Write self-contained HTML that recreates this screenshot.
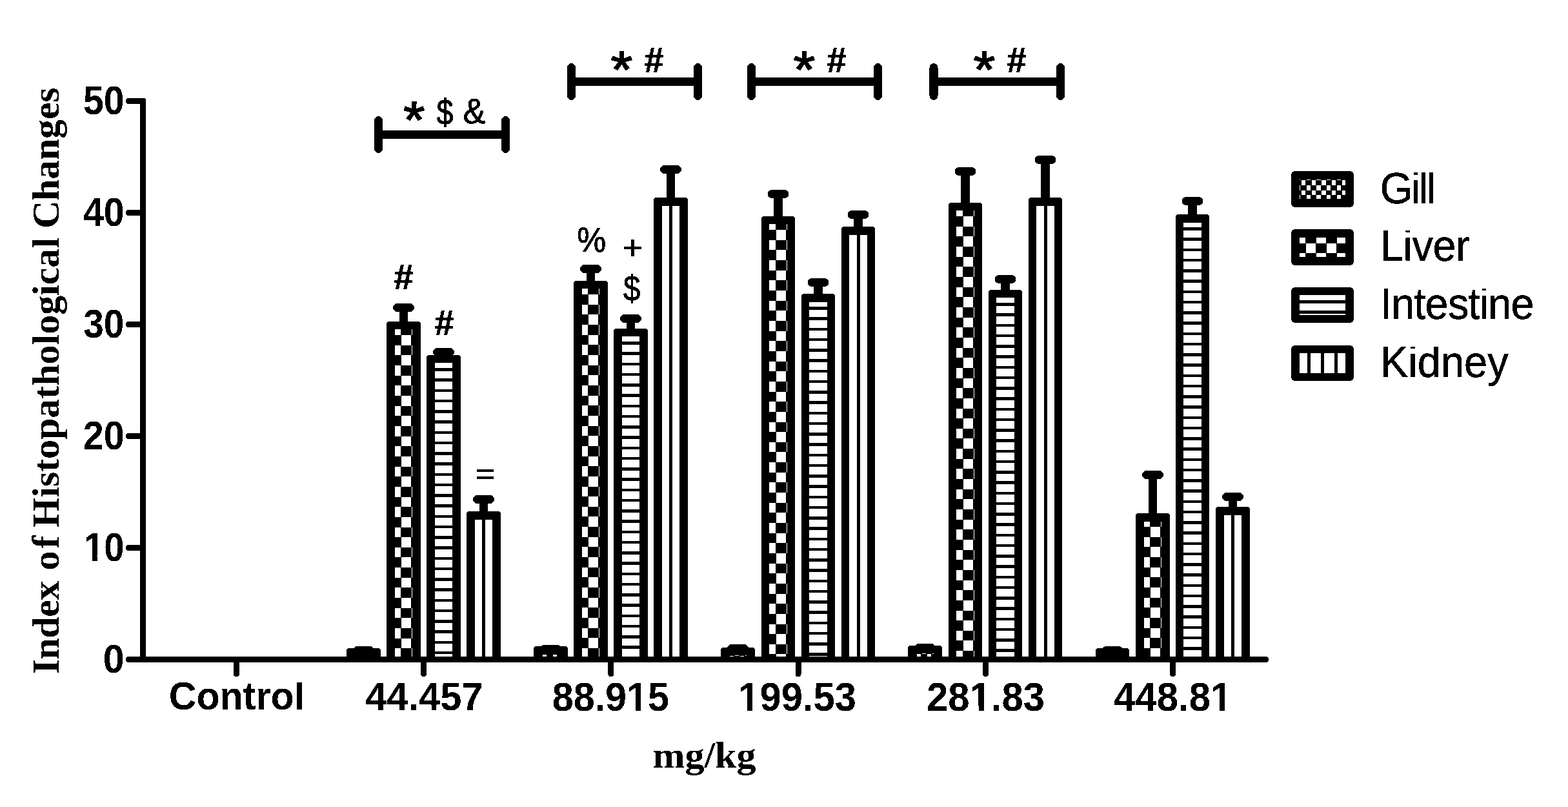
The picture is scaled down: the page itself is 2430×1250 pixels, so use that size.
<!DOCTYPE html>
<html lang="en"><head><meta charset="utf-8"><title>Index of Histopathological Changes</title>
<style>
html,body{margin:0;padding:0;background:#fff;}
body{width:2430px;height:1250px;overflow:hidden;}
svg{display:block;}
.tick{font-family:"Liberation Sans",Arial,Helvetica,sans-serif;font-weight:700;font-size:60px;fill:#000;}
.title{font-family:"Liberation Serif","Times New Roman",Times,serif;font-weight:700;font-size:60px;fill:#000;}
.leg{font-family:"Liberation Sans",Arial,Helvetica,sans-serif;font-weight:400;font-size:65px;fill:#000;stroke:#000;stroke-width:0.5px;}
.ann{font-family:"Liberation Sans",Arial,Helvetica,sans-serif;font-weight:400;font-size:54px;fill:#000;stroke:#000;stroke-width:0.9px;}
.hash{font-family:"Liberation Sans",Arial,Helvetica,sans-serif;font-weight:700;font-size:54px;fill:#000;stroke:#000;stroke-width:1px;}
.star{font-family:"Liberation Sans",Arial,Helvetica,sans-serif;font-weight:400;font-size:86px;fill:#000;stroke:#000;stroke-width:2px;}
.eb{stroke:#000;stroke-width:13;stroke-linecap:round;stroke-linejoin:round;fill:none;}
</style></head><body>
<svg width="2430" height="1250" viewBox="0 0 2430 1250">
<defs>
<filter id="bw" filterUnits="userSpaceOnUse" x="0" y="0" width="2430" height="1250" color-interpolation-filters="sRGB">
<feComponentTransfer><feFuncR type="discrete" tableValues="0 1"/><feFuncG type="discrete" tableValues="0 1"/><feFuncB type="discrete" tableValues="0 1"/></feComponentTransfer>
</filter>
</defs>
<g filter="url(#bw)">
<rect x="0" y="0" width="2430" height="1250" fill="#fff"/>
<g id="bars" fill="#000">
<path class="eb" d="M553.5,1007.5 H573.5 M563.5,1007.5 V1010.5"/>
<path d="M537,1023.5 H590 V1008 a4,4 0 0 0 -4,-4 H541 a4,4 0 0 0 -4,4 Z"/>
<path class="eb" d="M615.5,476.5 H635.5 M625.5,476.5 V504.5"/>
<path d="M599,1023.5 H652 V502 a4,4 0 0 0 -4,-4 H603 a4,4 0 0 0 -4,4 Z"/><rect fill="#fff" x="612" y="510" width="27" height="507"/><path d="M621,510H638V519H621ZM612,519H622V535H612ZM637,519H639V535H637ZM621,535H638V550H621ZM612,550H622V566H612ZM637,550H639V566H637ZM621,566H638V582H621ZM612,582H622V597H612ZM637,582H639V597H637ZM621,597H638V613H621ZM612,613H622V629H612ZM637,613H639V629H637ZM621,629H638V644H621ZM612,644H622V660H612ZM637,644H639V660H637ZM621,660H638V676H621ZM612,676H622V691H612ZM637,676H639V691H637ZM621,691H638V707H621ZM612,707H622V723H612ZM637,707H639V723H637ZM621,723H638V738H621ZM612,738H622V754H612ZM637,738H639V754H637ZM621,754H638V770H621ZM612,770H622V785H612ZM637,770H639V785H637ZM621,785H638V801H621ZM612,801H622V817H612ZM637,801H639V817H637ZM621,817H638V832H621ZM612,832H622V848H612ZM637,832H639V848H637ZM621,848H638V863H621ZM612,863H622V879H612ZM637,863H639V879H637ZM621,879H638V895H621ZM612,895H622V910H612ZM637,895H639V910H637ZM621,910H638V926H621ZM612,926H622V942H612ZM637,926H639V942H637ZM621,942H638V957H621ZM612,957H622V973H612ZM637,957H639V973H637ZM621,973H638V989H621ZM612,989H622V1004H612ZM637,989H639V1004H637ZM621,1004H638V1017H621Z"/>
<path class="eb" d="M677.5,545.5 H697.5 M687.5,545.5 V556.5"/>
<path d="M661,1023.5 H714 V554 a4,4 0 0 0 -4,-4 H665 a4,4 0 0 0 -4,4 Z"/><rect fill="#fff" x="674" y="562" width="27" height="455"/><path d="M674,570H701V575H674ZM674,586H701V591H674ZM674,603H701V607H674ZM674,619H701V623H674ZM674,635H701V640H674ZM674,651H701V656H674ZM674,668H701V672H674ZM674,684H701V688H674ZM674,700H701V705H674ZM674,716H701V721H674ZM674,733H701V737H674ZM674,749H701V753H674ZM674,765H701V770H674ZM674,781H701V786H674ZM674,798H701V802H674ZM674,814H701V818H674ZM674,830H701V835H674ZM674,846H701V851H674ZM674,863H701V867H674ZM674,879H701V883H674ZM674,895H701V900H674ZM674,911H701V916H674ZM674,928H701V932H674ZM674,944H701V948H674ZM674,960H701V965H674ZM674,976H701V981H674ZM674,993H701V997H674ZM674,1009H701V1013H674Z"/>
<path class="eb" d="M739.5,773.5 H759.5 M749.5,773.5 V798.5"/>
<path d="M723,1023.5 H776 V796 a4,4 0 0 0 -4,-4 H727 a4,4 0 0 0 -4,4 Z"/><rect fill="#fff" x="736" y="805" width="27" height="212"/><path d="M747,805H752V1017H747Z"/>
<path class="eb" d="M843.5,1005.3 H863.5 M853.5,1005.3 V1007.5"/>
<path d="M827,1023.5 H880 V1005 a4,4 0 0 0 -4,-4 H831 a4,4 0 0 0 -4,4 Z"/><rect fill="#fff" x="840" y="1014" width="27" height="3"/><path d="M840,1014H841V1017H840ZM847,1014H857V1017H847ZM863,1014H867V1017H863Z"/>
<path class="eb" d="M905.5,416.5 H925.5 M915.5,416.5 V441.5"/>
<path d="M889,1023.5 H942 V439 a4,4 0 0 0 -4,-4 H893 a4,4 0 0 0 -4,4 Z"/><rect fill="#fff" x="902" y="447" width="27" height="570"/><path d="M911,447H928V456H911ZM902,456H912V472H902ZM927,456H929V472H927ZM911,472H928V487H911ZM902,487H912V503H902ZM927,487H929V503H927ZM911,503H928V519H911ZM902,519H912V534H902ZM927,519H929V534H927ZM911,534H928V550H911ZM902,550H912V566H902ZM927,550H929V566H927ZM911,566H928V581H911ZM902,581H912V597H902ZM927,581H929V597H927ZM911,597H928V613H911ZM902,613H912V628H902ZM927,613H929V628H927ZM911,628H928V644H911ZM902,644H912V660H902ZM927,644H929V660H927ZM911,660H928V675H911ZM902,675H912V691H902ZM927,675H929V691H927ZM911,691H928V707H911ZM902,707H912V722H902ZM927,707H929V722H927ZM911,722H928V738H911ZM902,738H912V754H902ZM927,738H929V754H927ZM911,754H928V769H911ZM902,769H912V785H902ZM927,769H929V785H927ZM911,785H928V800H911ZM902,800H912V816H902ZM927,800H929V816H927ZM911,816H928V832H911ZM902,832H912V847H902ZM927,832H929V847H927ZM911,847H928V863H911ZM902,863H912V879H902ZM927,863H929V879H927ZM911,879H928V894H911ZM902,894H912V910H902ZM927,894H929V910H927ZM911,910H928V926H911ZM902,926H912V941H902ZM927,926H929V941H927ZM911,941H928V957H911ZM902,957H912V973H902ZM927,957H929V973H927ZM911,973H928V988H911ZM902,988H912V1004H902ZM927,988H929V1004H927ZM911,1004H928V1017H911Z"/>
<path class="eb" d="M967.5,493.5 H987.5 M977.5,493.5 V515.5"/>
<path d="M951,1023.5 H1004 V513 a4,4 0 0 0 -4,-4 H955 a4,4 0 0 0 -4,4 Z"/><rect fill="#fff" x="964" y="521" width="27" height="496"/><path d="M964,529H991V534H964ZM964,545H991V550H964ZM964,562H991V566H964ZM964,578H991V582H964ZM964,594H991V599H964ZM964,610H991V615H964ZM964,627H991V631H964ZM964,643H991V647H964ZM964,659H991V664H964ZM964,675H991V680H964ZM964,692H991V696H964ZM964,708H991V712H964ZM964,724H991V729H964ZM964,740H991V745H964ZM964,757H991V761H964ZM964,773H991V777H964ZM964,789H991V794H964ZM964,805H991V810H964ZM964,822H991V826H964ZM964,838H991V842H964ZM964,854H991V859H964ZM964,870H991V875H964ZM964,887H991V891H964ZM964,903H991V907H964ZM964,919H991V924H964ZM964,935H991V940H964ZM964,952H991V956H964ZM964,968H991V972H964ZM964,984H991V989H964ZM964,1000H991V1005H964Z"/>
<path class="eb" d="M1029.5,262.5 H1049.5 M1039.5,262.5 V312.5"/>
<path d="M1013,1023.5 H1066 V310 a4,4 0 0 0 -4,-4 H1017 a4,4 0 0 0 -4,4 Z"/><rect fill="#fff" x="1026" y="319" width="27" height="698"/><path d="M1037,319H1042V1017H1037Z"/>
<path class="eb" d="M1133.5,1004.5 H1153.5 M1143.5,1004.5 V1009.5"/>
<path d="M1117,1023.5 H1170 V1007 a4,4 0 0 0 -4,-4 H1121 a4,4 0 0 0 -4,4 Z"/><rect fill="#fff" x="1130" y="1015" width="27" height="2"/><path d="M1130,1015H1139V1016H1130ZM1145,1015H1155V1016H1145ZM1130,1016H1131V1017H1130ZM1137,1016H1147V1017H1137ZM1153,1016H1157V1017H1153Z"/>
<path class="eb" d="M1196,300.5 H1216 M1206,300.5 V341.5"/>
<path d="M1180,1023.5 H1232 V339 a4,4 0 0 0 -4,-4 H1184 a4,4 0 0 0 -4,4 Z"/><rect fill="#fff" x="1192" y="347" width="28" height="670"/><path d="M1202,347H1219V356H1202ZM1192,356H1203V372H1192ZM1218,356H1220V372H1218ZM1202,372H1219V387H1202ZM1192,387H1203V403H1192ZM1218,387H1220V403H1218ZM1202,403H1219V419H1202ZM1192,419H1203V434H1192ZM1218,419H1220V434H1218ZM1202,434H1219V450H1202ZM1192,450H1203V466H1192ZM1218,450H1220V466H1218ZM1202,466H1219V481H1202ZM1192,481H1203V497H1192ZM1218,481H1220V497H1218ZM1202,497H1219V513H1202ZM1192,513H1203V528H1192ZM1218,513H1220V528H1218ZM1202,528H1219V544H1202ZM1192,544H1203V560H1192ZM1218,544H1220V560H1218ZM1202,560H1219V575H1202ZM1192,575H1203V591H1192ZM1218,575H1220V591H1218ZM1202,591H1219V607H1202ZM1192,607H1203V622H1192ZM1218,607H1220V622H1218ZM1202,622H1219V638H1202ZM1192,638H1203V654H1192ZM1218,638H1220V654H1218ZM1202,654H1219V669H1202ZM1192,669H1203V685H1192ZM1218,669H1220V685H1218ZM1202,685H1219V700H1202ZM1192,700H1203V716H1192ZM1218,700H1220V716H1218ZM1202,716H1219V732H1202ZM1192,732H1203V747H1192ZM1218,732H1220V747H1218ZM1202,747H1219V763H1202ZM1192,763H1203V779H1192ZM1218,763H1220V779H1218ZM1202,779H1219V794H1202ZM1192,794H1203V810H1192ZM1218,794H1220V810H1218ZM1202,810H1219V826H1202ZM1192,826H1203V841H1192ZM1218,826H1220V841H1218ZM1202,841H1219V857H1202ZM1192,857H1203V873H1192ZM1218,857H1220V873H1218ZM1202,873H1219V888H1202ZM1192,888H1203V904H1192ZM1218,888H1220V904H1218ZM1202,904H1219V920H1202ZM1192,920H1203V935H1192ZM1218,920H1220V935H1218ZM1202,935H1219V951H1202ZM1192,951H1203V967H1192ZM1218,951H1220V967H1218ZM1202,967H1219V982H1202ZM1192,982H1203V998H1192ZM1218,982H1220V998H1218ZM1202,998H1219V1013H1202ZM1192,1013H1203V1017H1192ZM1218,1013H1220V1017H1218Z"/>
<path class="eb" d="M1258,437.5 H1278 M1268,437.5 V461.5"/>
<path d="M1242,1023.5 H1294 V459 a4,4 0 0 0 -4,-4 H1246 a4,4 0 0 0 -4,4 Z"/><rect fill="#fff" x="1254" y="468" width="28" height="549"/><path d="M1254,475H1282V480H1254ZM1254,491H1282V496H1254ZM1254,508H1282V512H1254ZM1254,524H1282V528H1254ZM1254,540H1282V545H1254ZM1254,556H1282V561H1254ZM1254,573H1282V577H1254ZM1254,589H1282V593H1254ZM1254,605H1282V610H1254ZM1254,621H1282V626H1254ZM1254,638H1282V642H1254ZM1254,654H1282V658H1254ZM1254,670H1282V675H1254ZM1254,686H1282V691H1254ZM1254,703H1282V707H1254ZM1254,719H1282V723H1254ZM1254,735H1282V740H1254ZM1254,751H1282V756H1254ZM1254,768H1282V772H1254ZM1254,784H1282V788H1254ZM1254,800H1282V805H1254ZM1254,816H1282V821H1254ZM1254,833H1282V837H1254ZM1254,849H1282V853H1254ZM1254,865H1282V870H1254ZM1254,881H1282V886H1254ZM1254,898H1282V902H1254ZM1254,914H1282V918H1254ZM1254,930H1282V935H1254ZM1254,946H1282V951H1254ZM1254,963H1282V967H1254ZM1254,979H1282V983H1254ZM1254,995H1282V1000H1254ZM1254,1011H1282V1016H1254Z"/>
<path class="eb" d="M1320,332.5 H1340 M1330,332.5 V357.5"/>
<path d="M1304,1023.5 H1356 V355 a4,4 0 0 0 -4,-4 H1308 a4,4 0 0 0 -4,4 Z"/><rect fill="#fff" x="1316" y="364" width="28" height="653"/><path d="M1328,364H1333V1017H1328Z"/>
<path class="eb" d="M1423.5,1003.5 H1443.5 M1433.5,1003.5 V1006.5"/>
<path d="M1407,1023.5 H1460 V1004 a4,4 0 0 0 -4,-4 H1411 a4,4 0 0 0 -4,4 Z"/><rect fill="#fff" x="1420" y="1012" width="27" height="5"/><path d="M1420,1012H1429V1013H1420ZM1435,1012H1445V1013H1435ZM1420,1013H1421V1017H1420ZM1427,1013H1437V1017H1427ZM1443,1013H1447V1017H1443Z"/>
<path class="eb" d="M1486,265.5 H1506 M1496,265.5 V320.5"/>
<path d="M1470,1023.5 H1522 V318 a4,4 0 0 0 -4,-4 H1474 a4,4 0 0 0 -4,4 Z"/><rect fill="#fff" x="1482" y="326" width="28" height="691"/><path d="M1492,326H1509V335H1492ZM1482,335H1493V351H1482ZM1508,335H1510V351H1508ZM1492,351H1509V366H1492ZM1482,366H1493V382H1482ZM1508,366H1510V382H1508ZM1492,382H1509V398H1492ZM1482,398H1493V413H1482ZM1508,398H1510V413H1508ZM1492,413H1509V429H1492ZM1482,429H1493V445H1482ZM1508,429H1510V445H1508ZM1492,445H1509V460H1492ZM1482,460H1493V476H1482ZM1508,460H1510V476H1508ZM1492,476H1509V492H1492ZM1482,492H1493V507H1482ZM1508,492H1510V507H1508ZM1492,507H1509V523H1492ZM1482,523H1493V539H1482ZM1508,523H1510V539H1508ZM1492,539H1509V554H1492ZM1482,554H1493V570H1482ZM1508,554H1510V570H1508ZM1492,570H1509V586H1492ZM1482,586H1493V601H1482ZM1508,586H1510V601H1508ZM1492,601H1509V617H1492ZM1482,617H1493V633H1482ZM1508,617H1510V633H1508ZM1492,633H1509V648H1492ZM1482,648H1493V664H1482ZM1508,648H1510V664H1508ZM1492,664H1509V679H1492ZM1482,679H1493V695H1482ZM1508,679H1510V695H1508ZM1492,695H1509V711H1492ZM1482,711H1493V726H1482ZM1508,711H1510V726H1508ZM1492,726H1509V742H1492ZM1482,742H1493V758H1482ZM1508,742H1510V758H1508ZM1492,758H1509V773H1492ZM1482,773H1493V789H1482ZM1508,773H1510V789H1508ZM1492,789H1509V805H1492ZM1482,805H1493V820H1482ZM1508,805H1510V820H1508ZM1492,820H1509V836H1492ZM1482,836H1493V852H1482ZM1508,836H1510V852H1508ZM1492,852H1509V867H1492ZM1482,867H1493V883H1482ZM1508,867H1510V883H1508ZM1492,883H1509V899H1492ZM1482,899H1493V914H1482ZM1508,899H1510V914H1508ZM1492,914H1509V930H1492ZM1482,930H1493V946H1482ZM1508,930H1510V946H1508ZM1492,946H1509V961H1492ZM1482,961H1493V977H1482ZM1508,961H1510V977H1508ZM1492,977H1509V992H1492ZM1482,992H1493V1008H1482ZM1508,992H1510V1008H1508ZM1492,1008H1509V1017H1492Z"/>
<path class="eb" d="M1548,432.5 H1568 M1558,432.5 V455.5"/>
<path d="M1532,1023.5 H1584 V453 a4,4 0 0 0 -4,-4 H1536 a4,4 0 0 0 -4,4 Z"/><rect fill="#fff" x="1544" y="461" width="28" height="556"/><path d="M1544,469H1572V474H1544ZM1544,485H1572V490H1544ZM1544,502H1572V506H1544ZM1544,518H1572V522H1544ZM1544,534H1572V539H1544ZM1544,550H1572V555H1544ZM1544,567H1572V571H1544ZM1544,583H1572V587H1544ZM1544,599H1572V604H1544ZM1544,615H1572V620H1544ZM1544,632H1572V636H1544ZM1544,648H1572V652H1544ZM1544,664H1572V669H1544ZM1544,680H1572V685H1544ZM1544,697H1572V701H1544ZM1544,713H1572V717H1544ZM1544,729H1572V734H1544ZM1544,745H1572V750H1544ZM1544,762H1572V766H1544ZM1544,778H1572V782H1544ZM1544,794H1572V799H1544ZM1544,810H1572V815H1544ZM1544,827H1572V831H1544ZM1544,843H1572V847H1544ZM1544,859H1572V864H1544ZM1544,875H1572V880H1544ZM1544,892H1572V896H1544ZM1544,908H1572V912H1544ZM1544,924H1572V929H1544ZM1544,940H1572V945H1544ZM1544,957H1572V961H1544ZM1544,973H1572V977H1544ZM1544,989H1572V994H1544ZM1544,1005H1572V1010H1544Z"/>
<path class="eb" d="M1610,247.5 H1630 M1620,247.5 V312.5"/>
<path d="M1594,1023.5 H1646 V310 a4,4 0 0 0 -4,-4 H1598 a4,4 0 0 0 -4,4 Z"/><rect fill="#fff" x="1606" y="319" width="28" height="698"/><path d="M1618,319H1623V1017H1618Z"/>
<path class="eb" d="M1714,1007.5 H1734 M1724,1007.5 V1010.5"/>
<path d="M1698,1023.5 H1750 V1008 a4,4 0 0 0 -4,-4 H1702 a4,4 0 0 0 -4,4 Z"/>
<path class="eb" d="M1776.5,735.5 H1796.5 M1786.5,735.5 V801.5"/>
<path d="M1760,1023.5 H1813 V799 a4,4 0 0 0 -4,-4 H1764 a4,4 0 0 0 -4,4 Z"/><rect fill="#fff" x="1773" y="808" width="27" height="209"/><path d="M1782,808H1799V816H1782ZM1773,816H1783V832H1773ZM1798,816H1800V832H1798ZM1782,832H1799V847H1782ZM1773,847H1783V863H1773ZM1798,847H1800V863H1798ZM1782,863H1799V879H1782ZM1773,879H1783V894H1773ZM1798,879H1800V894H1798ZM1782,894H1799V910H1782ZM1773,910H1783V926H1773ZM1798,910H1800V926H1798ZM1782,926H1799V941H1782ZM1773,941H1783V957H1773ZM1798,941H1800V957H1798ZM1782,957H1799V973H1782ZM1773,973H1783V988H1773ZM1798,973H1800V988H1798ZM1782,988H1799V1004H1782ZM1773,1004H1783V1017H1773ZM1798,1004H1800V1017H1798Z"/>
<path class="eb" d="M1838,311.5 H1858 M1848,311.5 V338.5"/>
<path d="M1822,1023.5 H1874 V336 a4,4 0 0 0 -4,-4 H1826 a4,4 0 0 0 -4,4 Z"/><rect fill="#fff" x="1834" y="345" width="28" height="672"/><path d="M1834,352H1862V357H1834ZM1834,368H1862V373H1834ZM1834,385H1862V389H1834ZM1834,401H1862V405H1834ZM1834,417H1862V422H1834ZM1834,433H1862V438H1834ZM1834,450H1862V454H1834ZM1834,466H1862V470H1834ZM1834,482H1862V487H1834ZM1834,498H1862V503H1834ZM1834,515H1862V519H1834ZM1834,531H1862V535H1834ZM1834,547H1862V552H1834ZM1834,563H1862V568H1834ZM1834,580H1862V584H1834ZM1834,596H1862V600H1834ZM1834,612H1862V617H1834ZM1834,628H1862V633H1834ZM1834,645H1862V649H1834ZM1834,661H1862V665H1834ZM1834,677H1862V682H1834ZM1834,693H1862V698H1834ZM1834,710H1862V714H1834ZM1834,726H1862V730H1834ZM1834,742H1862V747H1834ZM1834,758H1862V763H1834ZM1834,775H1862V779H1834ZM1834,791H1862V795H1834ZM1834,807H1862V812H1834ZM1834,823H1862V828H1834ZM1834,840H1862V844H1834ZM1834,856H1862V860H1834ZM1834,872H1862V877H1834ZM1834,888H1862V893H1834ZM1834,905H1862V909H1834ZM1834,921H1862V925H1834ZM1834,937H1862V942H1834ZM1834,953H1862V958H1834ZM1834,970H1862V974H1834ZM1834,986H1862V990H1834ZM1834,1002H1862V1007H1834Z"/>
<path class="eb" d="M1900.5,769.5 H1920.5 M1910.5,769.5 V791.5"/>
<path d="M1884,1023.5 H1937 V789 a4,4 0 0 0 -4,-4 H1888 a4,4 0 0 0 -4,4 Z"/><rect fill="#fff" x="1897" y="798" width="27" height="219"/><path d="M1908,798H1913V1017H1908Z"/>
</g>
<g id="axes" fill="#000">
<rect x="217" y="152" width="9" height="874" rx="2.5"/>
<rect x="195" y="1017" width="1771" height="9" rx="4"/>
<rect x="195" y="844" width="30" height="9" rx="4"/>
<rect x="195" y="671" width="30" height="9" rx="4"/>
<rect x="195" y="498" width="30" height="9" rx="4"/>
<rect x="195" y="325" width="30" height="9" rx="4"/>
<rect x="195" y="152" width="30" height="9" rx="4"/>
<rect x="361.8" y="1018" width="9" height="30" rx="4"/>
<rect x="652.05" y="1018" width="9" height="30" rx="4"/>
<rect x="942.3" y="1018" width="9" height="30" rx="4"/>
<rect x="1232.55" y="1018" width="9" height="30" rx="4"/>
<rect x="1522.8" y="1018" width="9" height="30" rx="4"/>
<rect x="1813.05" y="1018" width="9" height="30" rx="4"/>
</g>
<g id="labels">
<text class="tick" transform="matrix(0.9863 0 0 1.0464 159.67 1041.88)">0</text>
<text class="tick" transform="matrix(0.9387 0 0 1.0470 129.84 868.86)">10</text>
<rect fill="#fff" transform="matrix(0.9387 0 0 1.0470 129.84 868.86)" x="2.279" y="-7.323" width="11.725" height="8.523"/>
<rect fill="#fff" transform="matrix(0.9387 0 0 1.0470 129.84 868.86)" x="22.236" y="-7.323" width="10.963" height="8.523"/>
<text class="tick" transform="matrix(0.9590 0 0 1.0457 128.67 695.86)">20</text>
<text class="tick" transform="matrix(0.9456 0 0 1.0384 129.32 522.56)">30</text>
<text class="tick" transform="matrix(0.9549 0 0 1.0463 128.90 349.86)">40</text>
<text class="tick" transform="matrix(0.9541 0 0 1.0454 129.01 176.82)">50</text>
<text class="tick" transform="matrix(0.9874 0 0 1.0314 261.63 1099.47)">Control</text>
<rect fill="#fff" x="261.0" y="1049.0" width="210.0" height="8"/>
<text class="tick" transform="matrix(0.9937 0 0 1.0091 566.20 1100.02)">44.457</text>
<text class="tick" transform="matrix(0.9876 0 0 1.0489 855.75 1100.60)">88.915</text>
<rect fill="#fff" transform="matrix(0.9876 0 0 1.0489 855.75 1100.60)" x="119.057" y="-7.323" width="11.725" height="8.523"/>
<rect fill="#fff" transform="matrix(0.9876 0 0 1.0489 855.75 1100.60)" x="139.014" y="-7.323" width="10.963" height="8.523"/>
<text class="tick" transform="matrix(0.9965 0 0 1.0429 1144.26 1101.34)">199.53</text>
<rect fill="#fff" transform="matrix(0.9965 0 0 1.0429 1144.26 1101.34)" x="2.279" y="-7.323" width="11.725" height="8.523"/>
<rect fill="#fff" transform="matrix(0.9965 0 0 1.0429 1144.26 1101.34)" x="22.236" y="-7.323" width="10.963" height="8.523"/>
<text class="tick" transform="matrix(0.9979 0 0 1.0428 1436.00 1101.34)">281.83</text>
<rect fill="#fff" transform="matrix(0.9979 0 0 1.0428 1436.00 1101.34)" x="69.018" y="-7.323" width="11.725" height="8.523"/>
<rect fill="#fff" transform="matrix(0.9979 0 0 1.0428 1436.00 1101.34)" x="88.975" y="-7.323" width="10.963" height="8.523"/>
<text class="tick" transform="matrix(0.9973 0 0 1.0493 1726.20 1100.62)">448.81</text>
<rect fill="#fff" transform="matrix(0.9973 0 0 1.0493 1726.20 1100.62)" x="152.426" y="-7.323" width="11.725" height="8.523"/>
<rect fill="#fff" transform="matrix(0.9973 0 0 1.0493 1726.20 1100.62)" x="172.383" y="-7.323" width="10.963" height="8.523"/>
<text class="title" style="letter-spacing:0.000px" transform="matrix(1.0000 0 0 0.9575 1011.50 1188.72)">mg/kg</text>
<text class="leg" style="letter-spacing:-2.483px" transform="matrix(1.0021 0 0 1.0638 2138.80 314.80)">Gill</text>
<rect fill="#fff" x="2138.9" y="258.9" width="85.3" height="8"/>
<text class="leg" style="letter-spacing:-0.500px" transform="matrix(0.9991 0 0 1.0498 2139.00 403.98)">Liver</text>
<rect fill="#fff" x="2141.0" y="349.0" width="139.0" height="8"/>
<text class="leg" style="letter-spacing:-0.844px" transform="matrix(0.9990 0 0 1.0498 2138.97 493.98)">Intestine</text>
<rect fill="#fff" x="2141.8" y="439.0" width="236.5" height="8"/>
<text class="leg" style="letter-spacing:0.000px" transform="matrix(1.0000 0 0 1.0498 2139.00 583.98)">Kidney</text>
<rect fill="#fff" x="2141.0" y="529.0" width="200.0" height="8"/>
<text class="star" transform="matrix(0.9870 0 0 0.9159 625.15 212.78)">*</text>
<text class="ann" transform="matrix(0.8650 0 0 1.0369 676.40 192.80)">$</text>
<text class="ann" transform="matrix(0.9759 0 0 1.0181 717.56 190.98)">&amp;</text>
<text class="star" transform="matrix(0.9981 0 0 0.9372 946.78 135.47)">*</text>
<text class="hash" transform="matrix(0.9853 0 0 1.0347 998.66 112.01)">#</text>
<text class="star" transform="matrix(0.9981 0 0 0.9372 1229.78 135.47)">*</text>
<text class="hash" transform="matrix(0.9853 0 0 1.0347 1281.66 112.01)">#</text>
<text class="star" transform="matrix(0.9981 0 0 0.9372 1508.78 135.47)">*</text>
<text class="hash" transform="matrix(0.9853 0 0 1.0347 1560.66 112.01)">#</text>
<text class="hash" transform="matrix(1.0062 0 0 1.0347 610.43 448.01)">#</text>
<text class="hash" transform="matrix(0.9853 0 0 1.0347 673.66 519.01)">#</text>
<text class="ann" transform="matrix(0.9549 0 0 0.8582 737.00 750.04)">=</text>
<text class="ann" transform="matrix(0.9376 0 0 0.9966 894.34 390.25)">%</text>
<text class="ann" transform="matrix(0.9892 0 0 0.9742 964.92 401.65)">+</text>
<text class="ann" transform="matrix(0.8790 0 0 1.0279 966.00 465.63)">$</text>
</g>
<g id="ytitle">
<text class="title" style="letter-spacing:-0.525px" transform="translate(91.11,1044.40) rotate(-90) scale(1.0011,0.9730)">Index</text>
<text class="title" style="letter-spacing:3.750px" transform="translate(91.11,883.55) rotate(-90) scale(1.0000,0.9730)">of</text>
<text class="title" style="letter-spacing:-0.031px" transform="translate(91.11,817.50) rotate(-90) scale(1.0000,0.9730)">Histopathological</text>
<text class="title" style="letter-spacing:-0.200px" transform="translate(91.11,354.00) rotate(-90) scale(0.9991,0.9730)">Changes</text>
</g>
<g id="brackets">
<path class="eb" d="M586.5,208.5 H783.5 M586.5,186.5 V230.5 M783.5,186.5 V230.5"/>
<path class="eb" d="M885.5,126.5 H1081.5 M885.5,104.5 V148.5 M1081.5,104.5 V148.5"/>
<path class="eb" d="M1164.5,126.5 H1360.5 M1164.5,104.5 V148.5 M1360.5,104.5 V148.5"/>
<path class="eb" d="M1447,126.5 H1643.5 M1447,104.5 V148.5 M1643.5,104.5 V148.5"/>
</g>
<g id="legend" fill="#000">
<rect x="2001" y="265" width="97" height="56" rx="6" ry="6"/><rect fill="#fff" x="2014" y="278" width="71" height="30"/><path d="M2015,278H2025V279H2015ZM2031,278H2040V279H2031ZM2047,278H2056V279H2047ZM2062,278H2072V279H2062ZM2078,278H2085V279H2078ZM2014,279H2017V287H2014ZM2023,279H2033V287H2023ZM2039,279H2048V287H2039ZM2055,279H2064V287H2055ZM2070,279H2080V287H2070ZM2015,287H2025V295H2015ZM2031,287H2040V295H2031ZM2047,287H2056V295H2047ZM2062,287H2072V295H2062ZM2078,287H2085V295H2078ZM2014,295H2017V302H2014ZM2023,295H2033V302H2023ZM2039,295H2048V302H2039ZM2055,295H2064V302H2055ZM2070,295H2080V302H2070ZM2015,302H2025V308H2015ZM2031,302H2040V308H2031ZM2047,302H2056V308H2047ZM2062,302H2072V308H2062ZM2078,302H2085V308H2078Z"/>
<rect x="2001" y="355" width="97" height="56" rx="6" ry="6"/><rect fill="#fff" x="2014" y="368" width="71" height="30"/><path d="M2023,368H2040V377H2023ZM2055,368H2072V377H2055ZM2014,377H2024V392H2014ZM2039,377H2056V392H2039ZM2071,377H2085V392H2071ZM2023,392H2040V398H2023ZM2055,392H2072V398H2055Z"/>
<rect x="2001" y="445" width="97" height="55" rx="6" ry="6"/><rect fill="#fff" x="2014" y="457" width="71" height="31"/><path d="M2014,465H2085V470H2014ZM2014,481H2085V486H2014Z"/>
<rect x="2001" y="535" width="97" height="55" rx="6" ry="6"/><rect fill="#fff" x="2014" y="547" width="71" height="31"/><path d="M2026,547H2031V578H2026ZM2047,547H2052V578H2047ZM2068,547H2073V578H2068Z"/>
</g>
</g>
</svg>
</body></html>
